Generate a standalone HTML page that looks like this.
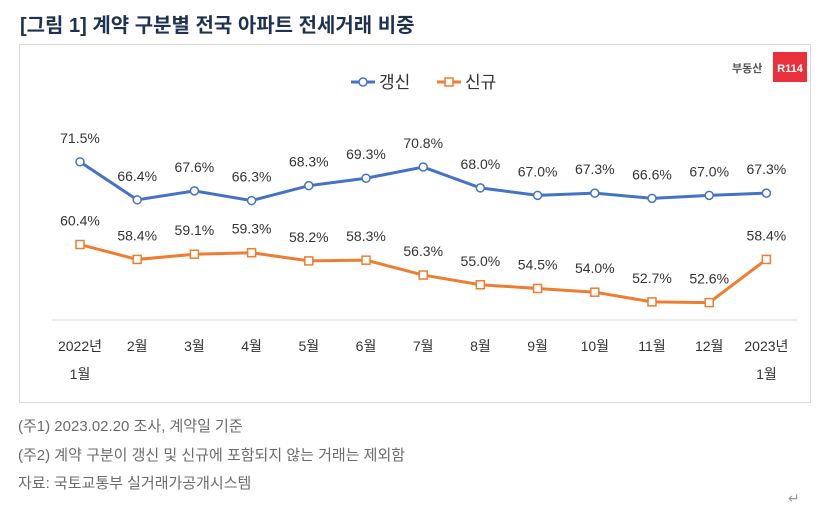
<!DOCTYPE html>
<html><head><meta charset="utf-8"><style>
body{margin:0;width:830px;height:510px;background:#fff;font-family:"Liberation Sans","Noto Sans CJK KR",sans-serif;overflow:hidden;position:relative}
.title{position:absolute;left:20px;top:9px;font-size:20px;font-weight:bold;color:#1f3150}
.box{position:absolute;left:19px;top:44px;width:792px;height:359px;border:1px solid #d9d9d9;box-sizing:border-box}
.note{position:absolute;left:18px;font-size:15px;color:#6b6b6b}
</style></head><body>
<div class="title">[그림 1] 계약 구분별 전국 아파트 전세거래 비중</div>
<div class="box"></div>
<svg width="830" height="510" style="position:absolute;left:0;top:0" id="chart" font-family="Liberation Sans, Noto Sans CJK KR, sans-serif">
<text x="732" y="72" font-size="11" fill="#555" font-weight="bold">부동산</text>
<rect x="773" y="52" width="34" height="30" fill="#e8313b"/>
<text x="790" y="72" font-size="11" fill="#fff" font-weight="bold" text-anchor="middle">R114</text>
<g>
<line x1="351" y1="82" x2="375" y2="82" stroke="#4472c4" stroke-width="3"/><circle cx="363" cy="82" r="4" fill="#fff" stroke="#4472c4" stroke-width="1.5"/>
<text x="379" y="88" font-size="17" fill="#333">갱신</text>
<line x1="437" y1="82" x2="461" y2="82" stroke="#ed7d31" stroke-width="3"/><rect x="445" y="78" width="8" height="8" fill="#fff" stroke="#ed7d31" stroke-width="1.5"/>
<text x="465" y="88" font-size="17" fill="#333">신규</text>
</g>
<line x1="52" y1="320" x2="797" y2="320" stroke="#d9d9d9"/>
<g id="marks"></g>
</svg>
<div class="note" style="top:415px">(주1) 2023.02.20 조사, 계약일 기준</div>
<div class="note" style="top:444px">(주2) 계약 구분이 갱신 및 신규에 포함되지 않는 거래는 제외함</div>
<div class="note" style="top:472px">자료: 국토교통부 실거래가공개시스템</div>
<div style="position:absolute;left:788px;top:490px;font-size:14px;color:#999">↵</div>
<script>
const categories=["2022년|1월","2월","3월","4월","5월","6월","7월","8월","9월","10월","11월","12월","2023년|1월"];
const renewal=[71.5,66.4,67.6,66.3,68.3,69.3,70.8,68.0,67.0,67.3,66.6,67.0,67.3];
const newContract=[60.4,58.4,59.1,59.3,58.2,58.3,56.3,55.0,54.5,54.0,52.7,52.6,58.4];
const NS="http://www.w3.org/2000/svg";
const g=document.getElementById('marks');
const xs=i=>80+i*57.2;
const ys=v=>322-(v-50)*7.45;
function mk(t,a){const e=document.createElementNS(NS,t);for(const k in a)e.setAttribute(k,a[k]);g.appendChild(e);return e;}
categories.forEach((c,i)=>{const p=c.split('|');p.forEach((s,j)=>{const t=mk('text',{x:xs(i),y:351+j*28,'text-anchor':'middle','font-size':14,fill:'#333'});t.textContent=s;

});});
function series(vals,col,sq,name){
 const pl=mk('polyline',{points:vals.map((v,i)=>xs(i)+','+ys(v)).join(' '),fill:'none',stroke:col,'stroke-width':3});
 
 
 vals.forEach((v,i)=>{let m;
  if(sq)m=mk('rect',{x:xs(i)-4,y:ys(v)-4,width:8,height:8,fill:'#fff',stroke:col,'stroke-width':1.5});
  else m=mk('circle',{cx:xs(i),cy:ys(v),r:4,fill:'#fff',stroke:col,'stroke-width':1.5});
  
  
  const t=mk('text',{x:xs(i),y:ys(v)-19,'text-anchor':'middle','font-size':14,fill:'#333'});t.textContent=v.toFixed(1)+'%';
  
  });
}
series(renewal,'#4472c4',false,'renewal');
series(newContract,'#ed7d31',true,'new-contract');
</script>
</body></html>
